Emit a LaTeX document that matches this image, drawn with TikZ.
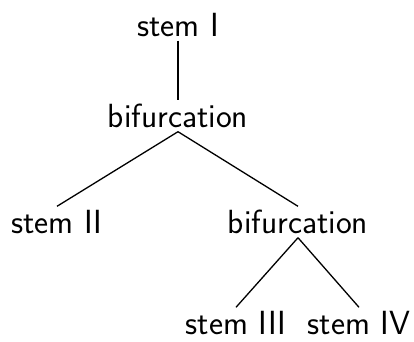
\documentclass[tikz,border=0pt]{standalone}
\begin{document}
\begin{tikzpicture}[x=1pt,y=1pt,
  treenode/.style={font=\sffamily\fontsize{33.5}{40}\selectfont, anchor=base,
    text height=22pt, text depth=0pt, inner xsep=0pt, inner ysep=4.5pt},
  branch/.style={line width=1.3pt}]
  \useasboundingbox (0,0) rectangle (414,341);
  % nodes placed by their baselines (y measured from the bottom)
  \node[treenode] (s1) at (178,305) {stem I};
  \node[treenode] (b1) at (178,214) {bifurcation};
  \node[treenode] (s2) at (57,108) {stem II};
  \node[treenode] (b2) at (298,108) {bifurcation};
  \node[treenode] (s3) at (236,7) {stem III};
  \node[treenode] (s4) at (359,7) {stem IV};
  % branches
  \draw[branch] (s1.south) -- (b1.north);
  \draw[branch] (b1.south) -- (s2.north);
  \draw[branch] (b1.south) -- (b2.north);
  \draw[branch] (b2.south) -- (s3.north);
  \draw[branch] (b2.south) -- (s4.north);
\end{tikzpicture}
\end{document}
